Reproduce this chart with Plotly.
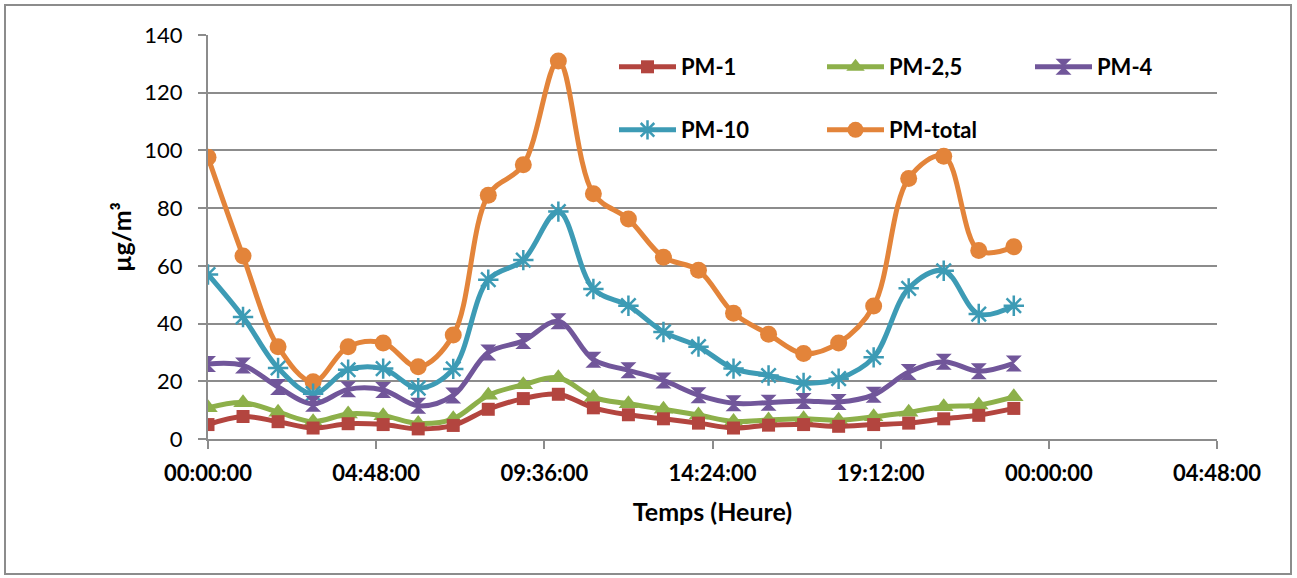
import plotly.graph_objects as go

hours = list(range(24))
pm1 = [5, 7.8, 6, 3.8, 5.3, 5, 3.5, 4.7, 10.3, 14, 15.5, 10.8, 8.4, 7, 5.5, 3.8, 4.8, 5, 4.4, 5, 5.5, 7, 8.2, 10.6]
pm25 = [10.8, 12.6, 9.3, 6, 8.7, 8.1, 5.4, 7, 15.2, 18.8, 21.2, 14.4, 12.2, 10.3, 8.3, 6.1, 6.6, 7, 6.5, 7.7, 9.3, 11.2, 11.8, 14.6]
pm4 = [26, 25.5, 18, 12.2, 17.2, 17, 11.5, 15.1, 30, 34, 40.8, 27.5, 23.8, 20.3, 15.2, 12.4, 12.6, 13.2, 12.8, 15.3, 23.2, 26.8, 23.5, 26.2]
pm10 = [57, 42.3, 24.6, 15.7, 24, 24.4, 17.6, 24.3, 55.2, 62, 78.8, 52, 46.2, 37.1, 32, 24.4, 22, 19.4, 20.9, 28.3, 52.2, 58.3, 43.3, 46.2]
pmtot = [97.6, 63.4, 32, 19.8, 32, 33.3, 25, 36, 84.5, 95, 131, 85, 76.2, 63, 58.5, 43.6, 36.3, 29.6, 33.3, 46.1, 90.3, 98, 65.3, 66.6]

xtick_vals = [0, 4.8, 9.6, 14.4, 19.2, 24, 28.8]
xtick_text = ["00:00:00", "04:48:00", "09:36:00", "14:24:00", "19:12:00", "00:00:00", "04:48:00"]

FONT = "Lato"

series = [
    ("PM-1", pm1, "#B3453F", "square", 13, "legend"),
    ("PM-2,5", pm25, "#8DB04A", "triangle-up", 17, "legend"),
    ("PM-4", pm4, "#71569A", "hourglass", 16, "legend"),
    ("PM-10", pm10, "#3D9BB5", "asterisk-open", 17, "legend2"),
    ("PM-total", pmtot, "#E3843A", "circle", 17, "legend2"),
]

fig = go.Figure()
for name, vals, col, sym, size, leg in reversed(series):
    fig.add_trace(go.Scatter(
        x=hours, y=vals, name=name, mode="lines+markers",
        line=dict(color=col, width=5, shape="spline", smoothing=1),
        marker=dict(symbol=sym, size=size, color=col,
                    line=dict(color=col, width=2.5 if sym == "asterisk-open" else 0)),
        legend=leg,
    ))

W, H = 1297, 578
L, R, T, B = 208, 80, 35, 139
pw, ph = W - L - R, H - T - B

def px_x(p):
    return (p - L) / pw

def px_y(p):
    return (H - B - p) / ph

grid = "#8C8C8C"
leg_common = dict(orientation="h", xanchor="left", yanchor="middle",
                  font=dict(family=FONT, size=22, color="black", weight="bold"),
                  itemwidth=57, entrywidth=136, traceorder="reversed",
                  bgcolor="rgba(0,0,0,0)")
fig.update_layout(
    width=W, height=H,
    margin=dict(l=L, r=R, t=T, b=B),
    paper_bgcolor="white", plot_bgcolor="white",
    font=dict(family=FONT, size=22, color="black"),
    showlegend=True,
    legend=dict(x=px_x(614), y=px_y(67), **leg_common),
    legend2=dict(x=px_x(614), y=px_y(130), **leg_common),
    xaxis=dict(range=[0, 28.8], tickvals=xtick_vals, ticktext=xtick_text,
               showgrid=False, zeroline=False, showline=True, linecolor=grid, linewidth=2,
               ticks="outside", ticklen=8, tickwidth=2, tickcolor=grid,
               tickfont=dict(family=FONT, size=22, color="black", weight="bold"),
               ticklabelstandoff=6,
               title=dict(text="Temps (Heure)", standoff=18,
                          font=dict(family=FONT, size=25, color="black", weight="bold"))),
    yaxis=dict(range=[0, 140], dtick=20, showgrid=True, gridcolor=grid, gridwidth=2,
               zeroline=False, showline=True, linecolor=grid, linewidth=2,
               ticks="outside", ticklen=8, tickwidth=2, tickcolor=grid,
               tickfont=dict(family=FONT, size=22, color="black"),
               ticklabelstandoff=11,
               title=dict(text="µg/m³", standoff=6,
                          font=dict(family=FONT, size=25, color="black", weight="bold"))),
    shapes=[dict(type="rect", xref="paper", yref="paper",
                 x0=px_x(5), x1=px_x(1291), y0=px_y(574), y1=px_y(5),
                 line=dict(color="#8C8C8C", width=2), fillcolor="rgba(0,0,0,0)", layer="below")],
)

fig.write_html("out.html")
